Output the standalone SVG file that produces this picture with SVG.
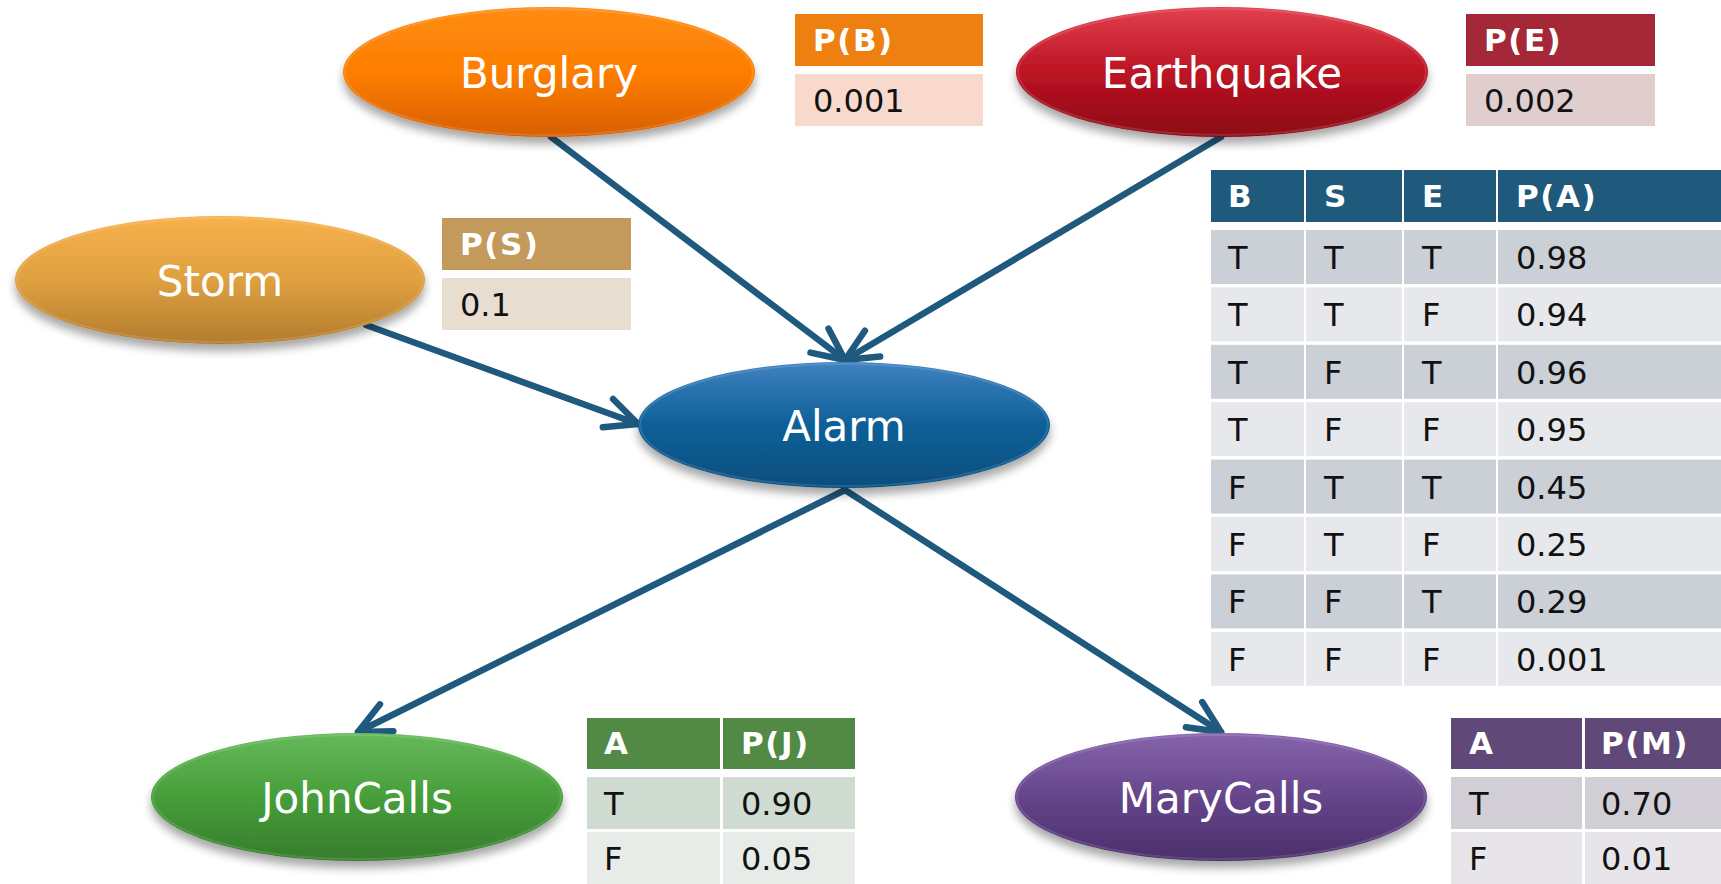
<svg xmlns="http://www.w3.org/2000/svg" width="1721" height="884" viewBox="0 0 1721 884">
<defs>
<style>
.lbl{font-family:"DejaVu Sans","Verdana",sans-serif;font-size:42px;fill:#ffffff;text-anchor:middle}
.th{font-family:"DejaVu Sans","Verdana",sans-serif;font-size:31px;font-weight:bold;fill:#ffffff;letter-spacing:1.5px}
.td{font-family:"DejaVu Sans","Verdana",sans-serif;font-size:32px;fill:#111111}
.edge{fill:none;stroke:#1F5A7E;stroke-width:6.5;stroke-linecap:round;marker-end:url(#arr)}
.rim{fill:none;stroke:#ffffff;stroke-opacity:0.12;stroke-width:2}
.bh{fill:#1F5A7D}.b1{fill:#CBCFD6}.b2{fill:#E6E8EB}
</style>
<marker id="arr" markerUnits="userSpaceOnUse" markerWidth="80" markerHeight="80" refX="0" refY="0" orient="auto" overflow="visible">
<path d="M -32 -15 L 0 0 L -32 15" fill="none" stroke="#1F5A7E" stroke-width="6.5" stroke-linecap="round" stroke-linejoin="round"/>
</marker>
<filter id="sh" x="-20%" y="-30%" width="140%" height="170%">
<feGaussianBlur in="SourceAlpha" stdDeviation="5"/>
<feOffset dx="0" dy="7" result="b"/>
<feComponentTransfer><feFuncA type="linear" slope="0.35"/></feComponentTransfer>
<feMerge><feMergeNode/><feMergeNode in="SourceGraphic"/></feMerge>
</filter>
<linearGradient id="gB" x1="0" y1="0" x2="0" y2="1"><stop offset="0" stop-color="#FF8C14"/><stop offset="0.5" stop-color="#FD7E00"/><stop offset="1" stop-color="#D85F00"/></linearGradient>
<linearGradient id="gE" x1="0" y1="0" x2="0" y2="1"><stop offset="0" stop-color="#E2404E"/><stop offset="0.5" stop-color="#BC1424"/><stop offset="1" stop-color="#8C0614"/></linearGradient>
<linearGradient id="gS" x1="0" y1="0" x2="0" y2="1"><stop offset="0" stop-color="#F8B14C"/><stop offset="0.5" stop-color="#DFA040"/><stop offset="1" stop-color="#B27C2E"/></linearGradient>
<linearGradient id="gA" x1="0" y1="0" x2="0" y2="1"><stop offset="0" stop-color="#3F82C0"/><stop offset="0.5" stop-color="#0F5F98"/><stop offset="1" stop-color="#064E7E"/></linearGradient>
<linearGradient id="gJ" x1="0" y1="0" x2="0" y2="1"><stop offset="0" stop-color="#66B95A"/><stop offset="0.5" stop-color="#479E3A"/><stop offset="1" stop-color="#367C2C"/></linearGradient>
<linearGradient id="gM" x1="0" y1="0" x2="0" y2="1"><stop offset="0" stop-color="#8664AC"/><stop offset="0.5" stop-color="#66458B"/><stop offset="1" stop-color="#4A2F6A"/></linearGradient>
</defs>
<rect x="0" y="0" width="1721" height="884" fill="#ffffff"/>

<g id="connectors">
<line class="edge" x1="551" y1="137" x2="845" y2="360"/>
<line class="edge" x1="1221" y1="137" x2="845" y2="360"/>
<line class="edge" x1="366" y1="325" x2="638" y2="424"/>
<line class="edge" x1="845" y1="490" x2="358" y2="732"/>
<line class="edge" x1="845" y1="490" x2="1221" y2="732"/>
</g>

<g id="burglary">
<ellipse cx="549" cy="72" rx="206" ry="65" fill="url(#gB)" filter="url(#sh)"/>
<ellipse class="rim" cx="549" cy="72" rx="204" ry="63"/>
<text class="lbl" x="549" y="88">Burglary</text>
</g>
<g id="pb-table">
<rect x="795" y="14" width="188" height="52" fill="#EE8012"/>
<rect x="795" y="74" width="188" height="52" fill="#F9D9CC"/>
<text class="th" x="813" y="51">P(B)</text>
<text class="td" x="813" y="112">0.001</text>
</g>

<g id="earthquake">
<ellipse cx="1222" cy="72" rx="206" ry="65" fill="url(#gE)" filter="url(#sh)"/>
<ellipse class="rim" cx="1222" cy="72" rx="204" ry="63"/>
<text class="lbl" x="1222" y="88">Earthquake</text>
</g>
<g id="pe-table">
<rect x="1466" y="14" width="189" height="52" fill="#A52838"/>
<rect x="1466" y="74" width="189" height="52" fill="#E0CDCD"/>
<text class="th" x="1484" y="51">P(E)</text>
<text class="td" x="1484" y="112">0.002</text>
</g>

<g id="storm">
<ellipse cx="220" cy="280" rx="205" ry="64" fill="url(#gS)" filter="url(#sh)"/>
<ellipse class="rim" cx="220" cy="280" rx="203" ry="62"/>
<text class="lbl" x="220" y="296">Storm</text>
</g>
<g id="ps-table">
<rect x="442" y="218" width="189" height="52" fill="#C39A5C"/>
<rect x="442" y="278" width="189" height="52" fill="#E8DDD1"/>
<text class="th" x="460" y="255">P(S)</text>
<text class="td" x="460" y="316">0.1</text>
</g>

<g id="alarm">
<ellipse cx="844" cy="425" rx="206" ry="63" fill="url(#gA)" filter="url(#sh)"/>
<ellipse class="rim" cx="844" cy="425" rx="204" ry="61"/>
<text class="lbl" x="844" y="441">Alarm</text>
</g>
<g id="pa-table">
<rect class="bh" x="1211" y="170" width="93" height="52"/>
<rect class="bh" x="1306" y="170" width="96" height="52"/>
<rect class="bh" x="1404" y="170" width="92" height="52"/>
<rect class="bh" x="1498" y="170" width="223" height="52"/>
<text class="th" x="1228" y="207">B</text>
<text class="th" x="1324" y="207">S</text>
<text class="th" x="1422" y="207">E</text>
<text class="th" x="1516" y="207">P(A)</text>
<g id="pa-rows">
<rect class="b1" x="1211" y="230" width="93" height="54"/><rect class="b1" x="1306" y="230" width="96" height="54"/><rect class="b1" x="1404" y="230" width="92" height="54"/><rect class="b1" x="1498" y="230" width="223" height="54"/>
<rect class="b2" x="1211" y="287.4" width="93" height="54"/><rect class="b2" x="1306" y="287.4" width="96" height="54"/><rect class="b2" x="1404" y="287.4" width="92" height="54"/><rect class="b2" x="1498" y="287.4" width="223" height="54"/>
<rect class="b1" x="1211" y="344.8" width="93" height="54"/><rect class="b1" x="1306" y="344.8" width="96" height="54"/><rect class="b1" x="1404" y="344.8" width="92" height="54"/><rect class="b1" x="1498" y="344.8" width="223" height="54"/>
<rect class="b2" x="1211" y="402.2" width="93" height="54"/><rect class="b2" x="1306" y="402.2" width="96" height="54"/><rect class="b2" x="1404" y="402.2" width="92" height="54"/><rect class="b2" x="1498" y="402.2" width="223" height="54"/>
<rect class="b1" x="1211" y="459.6" width="93" height="54"/><rect class="b1" x="1306" y="459.6" width="96" height="54"/><rect class="b1" x="1404" y="459.6" width="92" height="54"/><rect class="b1" x="1498" y="459.6" width="223" height="54"/>
<rect class="b2" x="1211" y="517" width="93" height="54"/><rect class="b2" x="1306" y="517" width="96" height="54"/><rect class="b2" x="1404" y="517" width="92" height="54"/><rect class="b2" x="1498" y="517" width="223" height="54"/>
<rect class="b1" x="1211" y="574.4" width="93" height="54"/><rect class="b1" x="1306" y="574.4" width="96" height="54"/><rect class="b1" x="1404" y="574.4" width="92" height="54"/><rect class="b1" x="1498" y="574.4" width="223" height="54"/>
<rect class="b2" x="1211" y="631.8" width="93" height="54"/><rect class="b2" x="1306" y="631.8" width="96" height="54"/><rect class="b2" x="1404" y="631.8" width="92" height="54"/><rect class="b2" x="1498" y="631.8" width="223" height="54"/>
</g>
<g id="pa-text">
<text class="td" x="1228" y="269">T</text><text class="td" x="1324" y="269">T</text><text class="td" x="1422" y="269">T</text><text class="td" x="1516" y="269">0.98</text>
<text class="td" x="1228" y="326.4">T</text><text class="td" x="1324" y="326.4">T</text><text class="td" x="1422" y="326.4">F</text><text class="td" x="1516" y="326.4">0.94</text>
<text class="td" x="1228" y="383.8">T</text><text class="td" x="1324" y="383.8">F</text><text class="td" x="1422" y="383.8">T</text><text class="td" x="1516" y="383.8">0.96</text>
<text class="td" x="1228" y="441.2">T</text><text class="td" x="1324" y="441.2">F</text><text class="td" x="1422" y="441.2">F</text><text class="td" x="1516" y="441.2">0.95</text>
<text class="td" x="1228" y="498.6">F</text><text class="td" x="1324" y="498.6">T</text><text class="td" x="1422" y="498.6">T</text><text class="td" x="1516" y="498.6">0.45</text>
<text class="td" x="1228" y="556">F</text><text class="td" x="1324" y="556">T</text><text class="td" x="1422" y="556">F</text><text class="td" x="1516" y="556">0.25</text>
<text class="td" x="1228" y="613.4">F</text><text class="td" x="1324" y="613.4">F</text><text class="td" x="1422" y="613.4">T</text><text class="td" x="1516" y="613.4">0.29</text>
<text class="td" x="1228" y="670.8">F</text><text class="td" x="1324" y="670.8">F</text><text class="td" x="1422" y="670.8">F</text><text class="td" x="1516" y="670.8">0.001</text>
</g>
</g>

<g id="johncalls">
<ellipse cx="357" cy="797" rx="206" ry="64" fill="url(#gJ)" filter="url(#sh)"/>
<ellipse class="rim" cx="357" cy="797" rx="204" ry="62"/>
<text class="lbl" x="357" y="813">JohnCalls</text>
</g>
<g id="pj-table">
<rect x="587" y="718" width="133" height="51" fill="#528A45"/>
<rect x="723" y="718" width="132" height="51" fill="#528A45"/>
<rect x="587" y="777" width="133" height="52" fill="#D0DBD1"/>
<rect x="723" y="777" width="132" height="52" fill="#D0DBD1"/>
<rect x="587" y="832" width="133" height="52" fill="#E8ECE8"/>
<rect x="723" y="832" width="132" height="52" fill="#E8ECE8"/>
<text class="th" x="604" y="754">A</text>
<text class="th" x="741" y="754">P(J)</text>
<text class="td" x="604" y="815">T</text>
<text class="td" x="741" y="815">0.90</text>
<text class="td" x="604" y="870">F</text>
<text class="td" x="741" y="870">0.05</text>
</g>

<g id="marycalls">
<ellipse cx="1221" cy="797" rx="206" ry="64" fill="url(#gM)" filter="url(#sh)"/>
<ellipse class="rim" cx="1221" cy="797" rx="204" ry="62"/>
<text class="lbl" x="1221" y="813">MaryCalls</text>
</g>
<g id="pm-table">
<rect x="1451" y="718" width="131" height="51" fill="#604878"/>
<rect x="1585" y="718" width="136" height="51" fill="#604878"/>
<rect x="1451" y="777" width="131" height="52" fill="#D1CED6"/>
<rect x="1585" y="777" width="136" height="52" fill="#D1CED6"/>
<rect x="1451" y="832" width="131" height="52" fill="#E7E5E9"/>
<rect x="1585" y="832" width="136" height="52" fill="#E7E5E9"/>
<text class="th" x="1469" y="754">A</text>
<text class="th" x="1601" y="754">P(M)</text>
<text class="td" x="1469" y="815">T</text>
<text class="td" x="1601" y="815">0.70</text>
<text class="td" x="1469" y="870">F</text>
<text class="td" x="1601" y="870">0.01</text>
</g>
</svg>
